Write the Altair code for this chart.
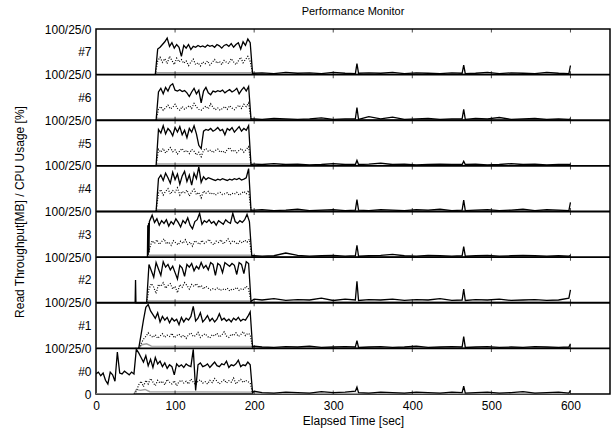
import altair as alt
import pandas as pd

# ---------------- data (values in % of a panel's height) ----------------
PANELS = ["#0", "#1", "#2", "#3", "#4", "#5", "#6", "#7"]
STEP = 3  # seconds between consecutive samples of the active-phase lists

SOLID_START = [0, 54, 64, 65, 76, 76, 76, 75]
SOLID = [
    [44, 48, 40, 46, 30, 22, 48, 42, 28, 92, 46, 44, 50, 46, 42, 48, 44, 98, 90, 80,
     70, 84, 62, 76, 58, 80, 66, 72, 60, 68, 56, 64, 60, 42, 66, 60, 64, 58, 66, 62,
     60, 98, 8, 64, 68, 60, 62, 66, 58, 64, 70, 62, 60, 66, 64, 72, 58, 64, 62, 66,
     74, 60, 64, 62, 70, 64, 3],
    [0, 30, 62, 90, 96, 82, 74, 66, 78, 58, 70, 62, 68, 56, 66, 60, 64, 52, 68, 58,
     66, 62, 70, 92, 60, 66, 78, 58, 64, 72, 60, 66, 58, 64, 76, 62, 66, 60, 64, 58,
     66, 62, 68, 60, 64, 62, 70, 80, 3],
    [0, 84, 70, 56, 88, 74, 60, 90, 78, 84, 72, 80, 66, 52, 82, 76, 58, 84, 78, 86,
     70, 80, 74, 88, 76, 82, 72, 88, 84, 60, 86, 82, 66, 88, 84, 80, 86, 82, 62, 88,
     84, 64, 90, 86, 3],
    [0, 80, 92, 76, 84, 70, 80, 74, 82, 68, 78, 72, 84, 76, 66, 80, 74, 86, 70, 62,
     78, 82, 96, 72, 80, 76, 82, 74, 78, 70, 80, 76, 72, 82, 77, 74, 96, 78, 74, 80,
     76, 82, 94, 78, 3],
    [0, 72, 80, 68, 84, 74, 62, 86, 70, 82, 60, 78, 88, 66, 80, 58, 84, 72, 98, 64,
     76, 70, 74, 72, 70, 68, 71, 69, 72, 70, 68, 71, 69, 72, 70, 73, 69, 71, 74, 94, 3],
    [0, 80, 72, 88, 70, 82, 76, 66, 84, 74, 86, 68, 78, 62, 82, 74, 88, 70, 45, 38,
     76, 80, 78, 82, 76, 79, 84, 77, 80, 68, 82, 78, 84, 74, 80, 86, 76, 82, 78, 88, 3],
    [0, 62, 70, 58, 72, 64, 76, 80, 66, 64, 67, 63, 65, 60, 52, 62, 70, 58, 66, 38,
     64, 72, 60, 56, 64, 62, 65, 63, 66, 60, 64, 67, 62, 65, 70, 58, 66, 72, 64, 74, 3],
    [0, 56, 60, 66, 72, 80, 62, 70, 58, 66, 60, 40, 64, 58, 66, 55, 62, 60, 64, 61,
     63, 60, 65, 62, 64, 60, 66, 63, 58, 64, 66, 62, 68, 60, 66, 70, 56, 72, 64, 78, 70, 3],
]

# isolated extra samples (spike in #2 before start, hatched start of #3)
EXTRA_T = [[], [], [49.5, 50, 50.5], [65.5, 66, 66.5, 67, 67.5], [], [], [], []]
EXTRA_V = [[], [], [0, 50, 0], [70, 5, 75, 10, 78], [], [], [], []]

DOT_START = [48, 54, 64, 65, 76, 76, 76, 75]
DOTTED = [
    [0, 6, 20, 28, 16, 30, 22, 34, 26, 18, 30, 24, 28, 20, 32, 26, 22, 29, 18, 27,
     30, 24, 28, 22, 33, 26, 20, 28, 31, 24, 27, 22, 30, 25, 34, 28, 22, 27, 31, 24,
     29, 26, 35, 22, 28, 32, 25, 30, 27, 24, 2],
    [0, 10, 20, 26, 34, 28, 24, 30, 22, 27, 32, 24, 29, 26, 33, 23, 28, 31, 25, 29,
     22, 30, 34, 26, 28, 35, 24, 29, 32, 26, 23, 30, 27, 33, 25, 29, 36, 27, 24, 31,
     28, 34, 26, 30, 37, 28, 33, 30, 2],
    [0, 30, 42, 34, 20, 40, 36, 44, 32, 38, 42, 30, 36, 22, 40, 34, 44, 38, 30, 40,
     36, 42, 33, 38, 30, 36, 32, 28, 31, 29, 33, 27, 30, 28, 32, 26, 30, 29, 34, 27,
     31, 29, 36, 30, 2],
    [0, 20, 36, 30, 38, 28, 34, 40, 29, 33, 26, 36, 31, 27, 35, 30, 38, 28, 33, 24,
     36, 32, 28, 37, 30, 34, 39, 31, 27, 35, 32, 38, 29, 34, 40, 30, 36, 33, 28, 35,
     31, 37, 33, 39, 2],
    [0, 40, 48, 36, 44, 50, 38, 46, 42, 52, 36, 44, 40, 47, 34, 43, 49, 37, 42, 30,
     45, 40, 44, 38, 41, 36, 40, 42, 37, 39, 41, 35, 40, 38, 42, 36, 40, 44, 39, 46, 2],
    [0, 36, 30, 38, 28, 34, 40, 31, 35, 26, 33, 38, 30, 34, 27, 36, 32, 24, 30, 20,
     34, 38, 32, 35, 29, 34, 37, 30, 33, 28, 36, 40, 31, 35, 29, 34, 38, 30, 36, 42, 2],
    [0, 24, 30, 22, 27, 33, 25, 28, 35, 26, 22, 30, 24, 28, 32, 26, 37, 29, 24, 22,
     27, 31, 25, 36, 28, 23, 27, 22, 26, 30, 24, 32, 27, 23, 29, 33, 26, 35, 30, 38, 2],
    [0, 30, 38, 27, 35, 24, 40, 31, 22, 36, 28, 33, 25, 30, 20, 27, 34, 22, 26, 19,
     28, 24, 30, 21, 27, 33, 25, 29, 22, 31, 27, 24, 35, 28, 22, 30, 38, 26, 33, 40, 29, 2],
]

IDLE_T = [200, 210, 225, 240, 255, 270, 285, 300, 315, 328, 330, 332, 345, 360, 375,
          390, 405, 420, 435, 450, 463, 465, 467, 480, 495, 510, 525, 540, 555, 570,
          585, 598, 600]
IDLE = [
    [6, 3, 2, 4, 3, 2, 5, 3, 4, 6, 15, 3, 2, 4, 3, 2, 4, 3, 2, 4, 3, 17, 2, 3, 4, 2, 3, 5, 2, 3, 4, 2, 8],
    [5, 3, 2, 4, 3, 5, 2, 3, 4, 3, 17, 2, 3, 4, 2, 3, 5, 2, 3, 4, 3, 26, 2, 3, 4, 2, 3, 2, 4, 3, 2, 3, 10],
    [8, 6, 9, 5, 7, 6, 10, 5, 8, 6, 47, 5, 7, 6, 8, 5, 7, 6, 9, 5, 6, 30, 5, 7, 6, 8, 5, 6, 7, 5, 6, 10, 28],
    [3, 2, 3, 9, 4, 2, 3, 4, 2, 3, 26, 2, 3, 4, 6, 3, 2, 4, 3, 2, 3, 23, 2, 3, 4, 2, 3, 4, 3, 2, 3, 2, 4],
    [3, 4, 2, 3, 5, 2, 3, 4, 2, 3, 26, 3, 2, 4, 3, 2, 4, 3, 5, 2, 3, 25, 2, 3, 4, 2, 3, 5, 2, 4, 3, 2, 20],
    [4, 3, 5, 3, 4, 2, 3, 5, 3, 3, 12, 3, 4, 6, 3, 4, 2, 3, 4, 3, 3, 10, 3, 4, 2, 3, 5, 3, 4, 2, 3, 3, 4],
    [3, 2, 4, 3, 2, 3, 5, 2, 3, 3, 28, 2, 8, 3, 7, 2, 3, 4, 2, 3, 3, 24, 2, 4, 3, 6, 2, 3, 4, 2, 3, 2, 3],
    [3, 4, 2, 5, 3, 4, 2, 5, 3, 2, 24, 3, 4, 3, 5, 2, 4, 3, 2, 4, 3, 21, 2, 3, 5, 2, 4, 3, 2, 5, 3, 2, 20],
]

LOW_T = [
    [0, 48, 51, 56, 62, 68, 197, 200, 600],
    [0, 54, 58, 64, 70, 197, 200, 600],
    [0, 64, 66, 195, 198, 600],
    [0, 65, 67, 195, 198, 600],
    [0, 76, 78, 195, 198, 600],
    [0, 76, 78, 195, 198, 600],
    [0, 76, 78, 195, 198, 600],
    [0, 75, 77, 196, 199, 600],
]
LOW_V = [
    [0, 0, 10, 8, 10, 5, 4, 1, 1],
    [0, 0, 8, 10, 5, 4, 1, 1],
    [0, 0, 4, 4, 1, 1],
    [0, 0, 4, 4, 1, 1],
    [0, 0, 4, 4, 1, 1],
    [0, 0, 4, 4, 1, 1],
    [0, 0, 4, 4, 1, 1],
    [0, 0, 4, 4, 1, 1],
]

X_TICKS = [0, 100, 200, 300, 400, 500, 600]
Y_TICK_VALUES = [0, 0.5, 1, 1.5, 2, 2.5, 3, 3.5, 4, 4.5, 5, 5.5, 6, 6.5, 7, 7.5, 8]
Y_TICK_LABELS = ["0", "#0", "100/25/0", "#1", "100/25/0", "#2", "100/25/0", "#3",
                 "100/25/0", "#4", "100/25/0", "#5", "100/25/0", "#6", "100/25/0", "#7",
                 "100/25/0"]

# ---------------- build tables ----------------
solid_rows, dot_rows, low_rows = [], [], []
for k in range(8):
    for i, v in enumerate(SOLID[k]):
        solid_rows.append({"panel": k, "t": SOLID_START[k] + STEP * i, "v": v})
    for t, v in zip(EXTRA_T[k], EXTRA_V[k]):
        solid_rows.append({"panel": k, "t": t, "v": v})
    for t, v in zip(IDLE_T, IDLE[k]):
        solid_rows.append({"panel": k, "t": t, "v": v})
    for i, v in enumerate(DOTTED[k]):
        dot_rows.append({"panel": k, "t": DOT_START[k] + STEP * i, "v": v})
    for t, v in zip(LOW_T[k], LOW_V[k]):
        low_rows.append({"panel": k, "t": t, "v": v})

solid_df = pd.DataFrame(solid_rows).sort_values(["panel", "t"])
dot_df = pd.DataFrame(dot_rows)
low_df = pd.DataFrame(low_rows)

# panel boundaries: use the same field names ("t", "y") as the lines so axes merge
tick_df = pd.DataFrame([{"t": x, "y": b} for x in X_TICKS[1:] for b in range(9)])
sep_df = pd.DataFrame({"y": list(range(1, 8))})

FONT = "Liberation Sans"
label_expr = "{}[indexof({}, datum.value)]".format(
    "[" + ",".join("'%s'" % s for s in Y_TICK_LABELS) + "]",
    "[" + ",".join(str(v) for v in Y_TICK_VALUES) + "]",
)

x_scale = alt.Scale(domain=[0, 650], nice=False, zero=False)
y_scale = alt.Scale(domain=[0, 8], nice=False, zero=False)

x_axis = alt.Axis(values=X_TICKS, title="Elapsed Time [sec]", ticks=False, domain=False,
                  grid=False, labelPadding=6, titlePadding=4, labelFontSize=12,
                  titleFontSize=12, titleFontWeight="normal", labelColor="black",
                  titleColor="black", labelFlush=False)
y_axis = alt.Axis(values=Y_TICK_VALUES, labelExpr=label_expr,
                  title="Read Throughput[MB] / CPU Usage [%]", ticks=False, domain=False,
                  grid=False, labelPadding=5, titlePadding=18, labelFontSize=12,
                  titleFontSize=12, titleFontWeight="normal", labelColor="black",
                  titleColor="black", labelFlush=False, labelOverlap=False)

x_enc = alt.X("t:Q", scale=x_scale, axis=x_axis)
y_enc = alt.Y("y:Q", scale=y_scale, axis=y_axis)
Y_CALC = "datum.panel + datum.v / 100"

low = alt.Chart(low_df).transform_calculate(y=Y_CALC).mark_line(
    color="#a0a0a0", strokeWidth=1.4, clip=True
).encode(x=x_enc, y=y_enc, detail="panel:N")

dotted = alt.Chart(dot_df).transform_calculate(y=Y_CALC).mark_line(
    color="black", strokeWidth=1.2, strokeDash=[1, 1.6], clip=True
).encode(x=x_enc, y=y_enc, detail="panel:N")

solid = alt.Chart(solid_df).transform_calculate(y=Y_CALC).mark_line(
    color="black", strokeWidth=1.3, clip=True
).encode(x=x_enc, y=y_enc, detail="panel:N")

seps = alt.Chart(sep_df).mark_rule(color="black", strokeWidth=1.8).encode(y=y_enc)

ticks = alt.Chart(tick_df).mark_tick(
    color="black", orient="vertical", size=7, thickness=1, clip=True
).encode(x=x_enc, y=y_enc)

chart = alt.layer(low, dotted, solid, seps, ticks).properties(
    width=514,
    height=365,
    autosize=alt.AutoSizeParams(type="none"),
    padding={"left": 96, "top": 29, "right": 3, "bottom": 38},
    title=alt.TitleParams("Performance Monitor", fontSize=11, fontWeight="normal",
                          font=FONT, color="black", anchor="middle", offset=6),
).configure(font=FONT, background="white").configure_view(
    stroke="black", strokeWidth=1.5
)

chart.save("out.html", embed_options={"renderer": "svg", "actions": False})
